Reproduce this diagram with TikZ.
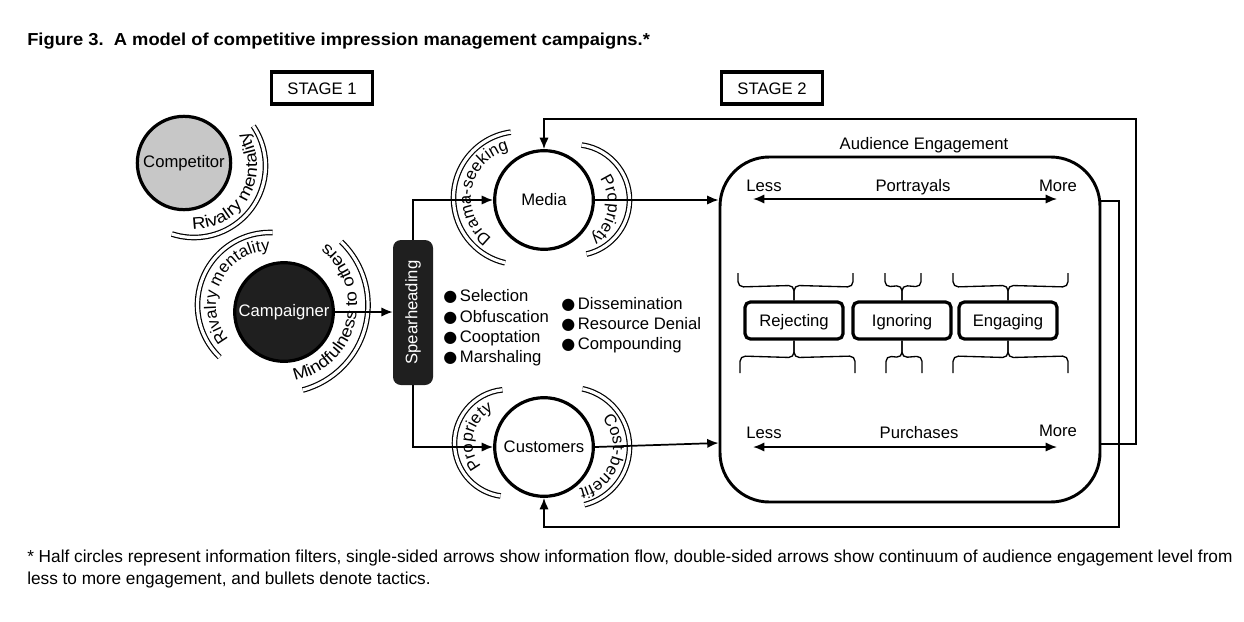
\documentclass[tikz,border=0pt]{standalone}
\usepackage{fontspec}
\usepackage{graphicx}
\setmainfont{Liberation Sans}
\newfontfamily\symbfont{DejaVu Sans}
\newfontfamily\widefont[FakeStretch=1.12]{Liberation Sans}
\usetikzlibrary{arrows.meta,decorations.text,calc}
\newcommand\arcf{\fontsize{12.5pt}{15pt}\selectfont}
\newcommand\arcw{\widefont\fontsize{12.5pt}{15pt}\selectfont}
\newcommand\bul{{\symbfont\fontsize{12pt}{12pt}\selectfont ●}}
\newcommand\farc[5]{\draw[filt] (#1,#2) ++(#4:#3) arc[start angle=#4,end angle=#5,radius=#3];}
\newcommand\arctext[6]{\path[decorate,decoration={text along path,text align=center,text={|\arcf|#6}}] (#1,#2) ++(#4:#3) arc[start angle=#4,end angle=#5,radius=#3];}
\newcommand\arctextin[6]{\path[decorate,decoration={text along path,text align=center,text={|\arcw|#6}}] (#1,#2) ++(#4:#3) arc[start angle=#4,end angle=#5,radius=#3];}
\begin{document}
\begin{tikzpicture}[x=0.75pt,y=-0.75pt,
  every node/.style={font=\fontsize{12.5pt}{15pt}\selectfont, inner sep=0pt},
  txt/.style={text height=9pt, text depth=0pt},
  flow/.style={line width=1.3pt, -{Latex[length=8.5pt,width=7pt]}},
  dflow/.style={line width=1.3pt, {Latex[length=8.5pt,width=7pt]}-{Latex[length=8.5pt,width=7pt]}},
  actor/.style={circle, draw, line width=2.4pt, minimum size=74pt},
  filt/.style={draw, line width=0.9pt, double=white, double distance=2.4pt},
  stagebox/.style={draw, line width=2.4pt, minimum width=75.75pt, minimum height=24pt, txt},
  respbox/.style={draw, line width=2.4pt, rounded corners=4pt, minimum width=73.5pt, minimum height=27.75pt, txt},
  brc/.style={line width=1pt, rounded corners=4pt},
  bullet/.style={anchor=west, txt},
]
\useasboundingbox (0,0) rectangle (1244,621);

% title
\node[anchor=west] (title) at (27,41) {\resizebox{467pt}{\height}{\fontsize{13pt}{15pt}\selectfont\bfseries Figure 3.\ \ A model of competitive impression management campaigns.*}};

% stage boxes
\node[stagebox] (s1) at (322,88) {STAGE 1};
\node[stagebox] (s2) at (772,88) {STAGE 2};

% filters (half circles)
\farc{194}{166}{71.5}{-34}{108}
\farc{270}{305}{72.5}{-88}{-226}
\farc{280}{305}{88}{-46}{75}
\farc{520}{198}{66.5}{-98}{-257}
\farc{574}{200}{55.5}{-82}{77}
\farc{508}{443}{53.5}{-96}{-262}
\farc{570}{447}{59.5}{-78}{76}

% filter labels
\arctextin{194}{166}{63}{109}{-51}{Rivalry mentality}
\arctext{270}{305}{54}{-230}{-80}{Rivalry mentality}
\arctextin{280}{305}{77}{98}{-72}{Mindfulness to others}
\arctext{520}{198}{49}{-249}{-89}{Drama-seeking}
\arctext{566}{204}{42}{-61}{79}{Propriety}
\arctext{508}{443}{35.5}{-238}{-98}{Propriety}
\arctext{570}{447}{43}{-52}{88}{Cost-benefit}

% actors
\node[actor, fill=black!22, minimum size=70pt] (comp) at (184,163) {Competitor};
\node[actor, fill=black!88, text=white] (camp) at (284,312) {Campaigner};
\node[actor] (media) at (544,200) {Media};
\node[actor] (cust) at (544,447) {Customers};

% spearheading
\node[fill=black!88, rounded corners=6pt, minimum width=30pt, minimum height=108.75pt, text=white] (spear) at (413,312.5) {\rotatebox{90}{Spearheading}};

% tactics
\node[bullet] (t1) at (443,295) {\bul\hspace{2pt}Selection};
\node[bullet] (t2) at (443,316) {\bul\hspace{2pt}Obfuscation};
\node[bullet] (t3) at (443,336) {\bul\hspace{2pt}Cooptation};
\node[bullet] (t4) at (443,356) {\bul\hspace{2pt}Marshaling};
\node[bullet] (t5) at (561,303) {\bul\hspace{2pt}Dissemination};
\node[bullet] (t6) at (561,323) {\bul\hspace{2pt}Resource Denial};
\node[bullet] (t7) at (561,343) {\bul\hspace{2pt}Compounding};

% audience engagement
\node[draw, line width=2.2pt, rounded corners=37pt, minimum width=285pt, minimum height=258.75pt] (aud) at (910,329.5) {};
\node[txt] (audlbl) at (924,143) {Audience Engagement};

\node[txt] (l1) at (764,185) {Less};
\node[txt] (p1) at (913,185) {Portrayals};
\node[txt] (m1) at (1058,185) {More};
\coordinate (pa) at (753,199);
\coordinate (pb) at (1057,199);
\draw[dflow] (pa) -- (pb);

\node[txt] (l2) at (764,432) {Less};
\node[txt] (p2) at (919,432) {Purchases};
\node[txt] (m2) at (1058,430) {More};
\coordinate (qa) at (753,447);
\coordinate (qb) at (1057,447);
\draw[dflow] (qa) -- (qb);

\node[respbox] (rej) at (794,320.5) {Rejecting};
\node[respbox] (ign) at (902,320.5) {Ignoring};
\node[respbox] (eng) at (1008,320.5) {Engaging};

% braces above
\draw[brc] (738,273) -- (738,287) -- ([yshift=11.25pt]rej.north) -- (rej.north);
\draw[brc] (853,273) -- (853,287) -- ([yshift=11.25pt]rej.north) -- (rej.north);
\draw[brc] (885,273) -- (885,287) -- ([yshift=11.25pt]ign.north) -- (ign.north);
\draw[brc] (921,273) -- (921,287) -- ([yshift=11.25pt]ign.north) -- (ign.north);
\draw[brc] (953,273) -- (953,287) -- ([yshift=11.25pt]eng.north) -- (eng.north);
\draw[brc] (1068,273) -- (1068,287) -- ([yshift=11.25pt]eng.north) -- (eng.north);
% braces below
\draw[brc] (rej.south) -- ([yshift=-12.75pt]rej.south) -- (740,356) -- (740,373);
\draw[brc] (rej.south) -- ([yshift=-12.75pt]rej.south) -- (855,356) -- (855,373);
\draw[brc] (ign.south) -- ([yshift=-12.75pt]ign.south) -- (886,356) -- (886,373);
\draw[brc] (ign.south) -- ([yshift=-12.75pt]ign.south) -- (922,356) -- (922,373);
\draw[brc] (eng.south) -- ([yshift=-12.75pt]eng.south) -- (953,356) -- (953,373);
\draw[brc] (eng.south) -- ([yshift=-12.75pt]eng.south) -- (1068,356) -- (1068,373);

% flows
\draw[flow] (camp.east) -- (camp.east -| spear.west);
\draw[flow] (spear.north) |- (media.west);
\draw[flow] (spear.south) |- (cust.west);
\draw[flow] (media.east) -- (media.east -| aud.west);
\draw[flow] (cust.east) -- ($(cust.east -| aud.west)+(0,-4)$);

% feedback loops
\coordinate (fbA) at (1119,201);
\coordinate (fbB) at (1119,527);
\coordinate (fbC) at (1136,444);
\coordinate (fbD) at (1136,119);
\draw[flow] (aud.east |- fbA) -- (fbA) -- (fbB) -| (cust.south);
\draw[flow] (aud.east |- fbC) -- (fbC) -- (fbD) -| (media.north);

% footnote
\node[anchor=north west] (foot) at (27,546) {\resizebox{904pt}{\height}{\fontsize{13pt}{17pt}\selectfont\begin{tabular}{@{}l@{}}* Half circles represent information filters, single-sided arrows show information flow, double-sided arrows show continuum of audience engagement level from\\ less to more engagement, and bullets denote tactics.\end{tabular}}};
\end{tikzpicture}
\end{document}
